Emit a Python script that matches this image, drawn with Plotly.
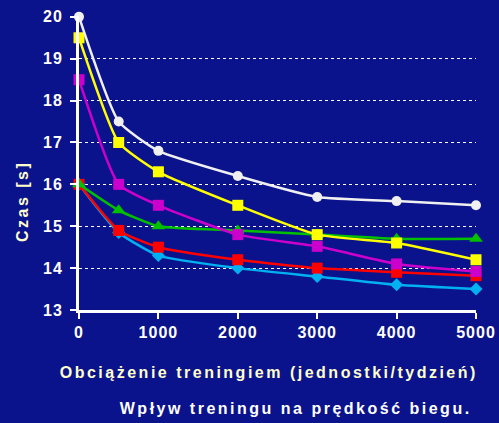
import plotly.graph_objects as go

x_vals = [0, 500, 1000, 2000, 3000, 4000, 5000]
white_s = [20.0, 17.5, 16.8, 16.2, 15.7, 15.6, 15.5]
yellow_s = [19.5, 17.0, 16.3, 15.5, 14.8, 14.6, 14.2]
magenta_s = [18.5, 16.0, 15.5, 14.8, 14.52, 14.1, 13.92]
green_s = [16.0, 15.38, 15.0, 14.9, 14.8, 14.7, 14.7]
red_s = [16.0, 14.9, 14.5, 14.2, 14.0, 13.9, 13.82]
cyan_s = [16.0, 14.85, 14.3, 14.0, 13.8, 13.6, 13.5]

series = [
    (cyan_s, "#00b0f0", "diamond", 10),
    (red_s, "#ff0000", "square", 11),
    (green_s, "#00c000", "triangle-up", 12),
    (magenta_s, "#cc00cc", "square", 11),
    (yellow_s, "#ffff00", "square", 11),
    (white_s, "#f0f0f0", "circle", 10),
]

fig = go.Figure()
for ys, col, sym, sz in series:
    fig.add_trace(go.Scatter(
        x=x_vals, y=ys, mode="lines+markers",
        line=dict(color=col, width=2.5, shape="spline", smoothing=0.5),
        marker=dict(color=col, symbol=sym, size=sz),
        cliponaxis=False, showlegend=False,
    ))

bg = "#0b138c"
L, R, T, B = 79, 23, 16, 113
W, H = 499, 423
fig.update_layout(
    width=W, height=H,
    paper_bgcolor=bg, plot_bgcolor=bg,
    margin=dict(l=L, r=R, t=T, b=B),
    font=dict(family="Liberation Sans, Arial", color="white"),
    xaxis=dict(range=[0, 5000], tickvals=[0, 1000, 2000, 3000, 4000, 5000],
               automargin=False,
               showgrid=False, zeroline=False, showline=True, linecolor="white",
               linewidth=3, ticks="outside", tickcolor="white", ticklen=6, tickwidth=2,
               tickfont=dict(size=16, color="white", weight="bold")),
    yaxis=dict(range=[13, 20.02], tickvals=[13, 14, 15, 16, 17, 18, 19, 20],
               automargin=False,
               showgrid=True, gridcolor="white", griddash="dot", gridwidth=1,
               zeroline=False, showline=True, linecolor="white", linewidth=3,
               ticks="outside", tickcolor="white", ticklen=6, tickwidth=2,
               tickfont=dict(size=16, color="white", weight="bold"), ticklabelstandoff=4),
)

pw, ph = W - L - R, H - T - B


def px_ann(text, x, y, color, angle=0):
    return dict(text=text, x=(x - L) / pw, y=(H - B - y) / ph, xref="paper", yref="paper",
                xanchor="center", yanchor="middle", showarrow=False, textangle=angle,
                font=dict(size=16, color=color, weight="bold"))


fig.update_layout(annotations=[
    px_ann("Czas [s]", 22, 202, "#ffffcc", -90),
    px_ann("Obciążenie treningiem (jednostki/tydzień)", 269, 372, "#ffffcc"),
    px_ann("Wpływ treningu na prędkość biegu.", 295, 408, "white"),
])

js = """
document.body.style.margin='0';document.body.style.overflow='hidden';
document.querySelectorAll('.annotation-text').forEach(function(e){e.style.letterSpacing='2.5px';});
document.querySelectorAll('.xtick text, .ytick text').forEach(function(e){e.style.letterSpacing='1px';});
"""
fig.write_html("out.html", config={"displayModeBar": False}, post_script=js)
